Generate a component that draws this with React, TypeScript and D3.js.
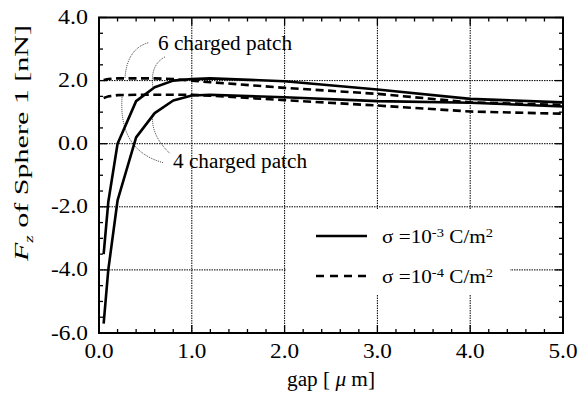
import React from "react";
import * as d3 from "d3";

const gaps = [0.05, 0.1, 0.2, 0.4, 0.6, 0.8, 1.0, 1.2, 2.0, 3.0, 4.0, 5.0];
const solid6 = [-3.5, -1.85, 0.0, 1.35, 1.79, 2.0, 2.05, 2.07, 1.98, 1.72, 1.42, 1.31];
const solid4 = [-5.7, -4.0, -1.8, 0.2, 0.97, 1.37, 1.53, 1.55, 1.47, 1.35, 1.3, 1.18];
const dashed6 = [2.02, 2.05, 2.07, 2.07, 2.07, 2.05, 2.0, 1.95, 1.77, 1.58, 1.31, 1.23];
const dashed4 = [1.45, 1.5, 1.54, 1.55, 1.55, 1.55, 1.55, 1.52, 1.38, 1.21, 1.02, 0.95];

const xTicks = [0, 1, 2, 3, 4, 5];
const yTicks = [-6, -4, -2, 0, 2, 4];
const xMinor = d3.range(0, 5.0001, 0.2);
const yMinor = d3.range(-6, 4.0001, 0.5);

const W = 587, H = 399;
const L = 99, R = 563, T = 17.5, B = 333;
const FONT = "Liberation Serif, Times New Roman, serif";

const x = d3.scaleLinear().domain([0, 5]).range([L, R]);
const y = d3.scaleLinear().domain([-6, 4]).range([B, T]);

const line = d3
  .line<[number, number]>()
  .x((d) => x(d[0]))
  .y((d) => y(d[1]));

const pts = (ys: number[]) => gaps.map((g, i) => [g, ys[i]] as [number, number]);

const leaders: [number, number][][] = [
  [[0.53, 3.2], [0.3, 3.0], [0.28, 2.07]],
  [[0.71, 2.75], [0.55, 2.5], [0.58, 1.8]],
  [[0.69, -0.6], [0.2, -0.2], [0.25, 1.54]],
  [[0.76, -0.3], [0.55, 0.3], [0.58, 0.95]],
];

const ts = { fontFamily: FONT } as React.CSSProperties;

export default function App() {
  return (
    <svg
      width={W}
      height={H}
      style={{ position: "absolute", left: 0, top: 0, background: "#fff", fontFamily: FONT }}
    >
      <rect x={0} y={0} width={W} height={H} fill="#fff" />
      {xTicks.slice(1, -1).map((t) => (
        <line key={"gx" + t} x1={x(t)} x2={x(t)} y1={T} y2={B} stroke="#000" strokeWidth={1} strokeDasharray="1.5,1" />
      ))}
      {yTicks.slice(1, -1).map((t) => (
        <line key={"gy" + t} x1={L} x2={R} y1={y(t)} y2={y(t)} stroke="#000" strokeWidth={1} strokeDasharray="1.5,1" />
      ))}
      <rect x={286} y={210} width={224} height={85} fill="#fff" />
      {xMinor.map((t, i) => {
        const len = Math.abs(t - Math.round(t)) < 1e-6 ? 8 : 4;
        return (
          <g key={"xm" + i}>
            <line x1={x(t)} x2={x(t)} y1={B} y2={B - len} stroke="#000" strokeWidth={1.3} />
            <line x1={x(t)} x2={x(t)} y1={T} y2={T + len} stroke="#000" strokeWidth={1.3} />
          </g>
        );
      })}
      {yMinor.map((t, i) => {
        const len = Math.abs(t / 2 - Math.round(t / 2)) < 1e-6 ? 8 : 4;
        return (
          <g key={"ym" + i}>
            <line x1={L} x2={L + len} y1={y(t)} y2={y(t)} stroke="#000" strokeWidth={1.3} />
            <line x1={R} x2={R - len} y1={y(t)} y2={y(t)} stroke="#000" strokeWidth={1.3} />
          </g>
        );
      })}
      <g fill="none" stroke="#000" strokeWidth={2.6} strokeLinejoin="round">
        <path d={line(pts(solid6)) || ""} />
        <path d={line(pts(solid4)) || ""} />
        <path d={line(pts(dashed6)) || ""} strokeDasharray="8,4.5" />
        <path d={line(pts(dashed4)) || ""} strokeDasharray="8,4.5" />
      </g>
      {leaders.map((p, i) => (
        <path
          key={"ld" + i}
          d={`M${x(p[0][0])},${y(p[0][1])} Q${x(p[1][0])},${y(p[1][1])} ${x(p[2][0])},${y(p[2][1])}`}
          fill="none"
          stroke="#000"
          strokeWidth={0.8}
          strokeDasharray="1,1"
        />
      ))}
      <rect x={L} y={T} width={R - L} height={B - T} fill="none" stroke="#000" strokeWidth={2} />
      {xTicks.map((t) => (
        <text key={"xl" + t} x={x(t)} y={358} textAnchor="middle" fontSize={20.5} style={ts}
          textLength={29} lengthAdjust="spacingAndGlyphs">
          {t.toFixed(1)}
        </text>
      ))}
      {yTicks.map((t) => (
        <text key={"yl" + t} x={88} y={y(t) + 6.5} textAnchor="end" fontSize={20.5} style={ts}
          textLength={t < 0 ? 37 : 30} lengthAdjust="spacingAndGlyphs">
          {t.toFixed(1)}
        </text>
      ))}
      <text x={158} y={50} fontSize={20.5} style={ts} textLength={134} lengthAdjust="spacingAndGlyphs">6 charged patch</text>
      <text x={173} y={168} fontSize={20.5} style={ts} textLength={134} lengthAdjust="spacingAndGlyphs">4 charged patch</text>
      <line x1={316} x2={367} y1={236} y2={236} stroke="#000" strokeWidth={2.6} />
      <line x1={316} x2={367} y1={276} y2={276} stroke="#000" strokeWidth={2.6} strokeDasharray="8,6" />
      <text x={382} y={243} fontSize={19} style={ts} textLength={111} lengthAdjust="spacingAndGlyphs">
        σ =10<tspan fontSize={13} dy={-6}>-3</tspan>
        <tspan dy={6}> C/m</tspan>
        <tspan fontSize={13} dy={-6}>2</tspan>
      </text>
      <text x={382} y={283} fontSize={19} style={ts} textLength={111} lengthAdjust="spacingAndGlyphs">
        σ =10<tspan fontSize={13} dy={-6}>-4</tspan>
        <tspan dy={6}> C/m</tspan>
        <tspan fontSize={13} dy={-6}>2</tspan>
      </text>
      <text x={331} y={386} textAnchor="middle" fontSize={20.5} style={ts} textLength={88} lengthAdjust="spacingAndGlyphs">
        gap [ <tspan fontStyle="italic">μ</tspan> m]
      </text>
      <text transform="translate(28,143) rotate(-90)" textAnchor="middle" fontSize={19} style={ts}
        textLength={236} lengthAdjust="spacingAndGlyphs">
        <tspan fontStyle="italic">F</tspan>
        <tspan fontStyle="italic" fontSize={12} dy={5}>z</tspan>
        <tspan dy={-5}> of  Sphere 1 [nN]</tspan>
      </text>
    </svg>
  );
}
